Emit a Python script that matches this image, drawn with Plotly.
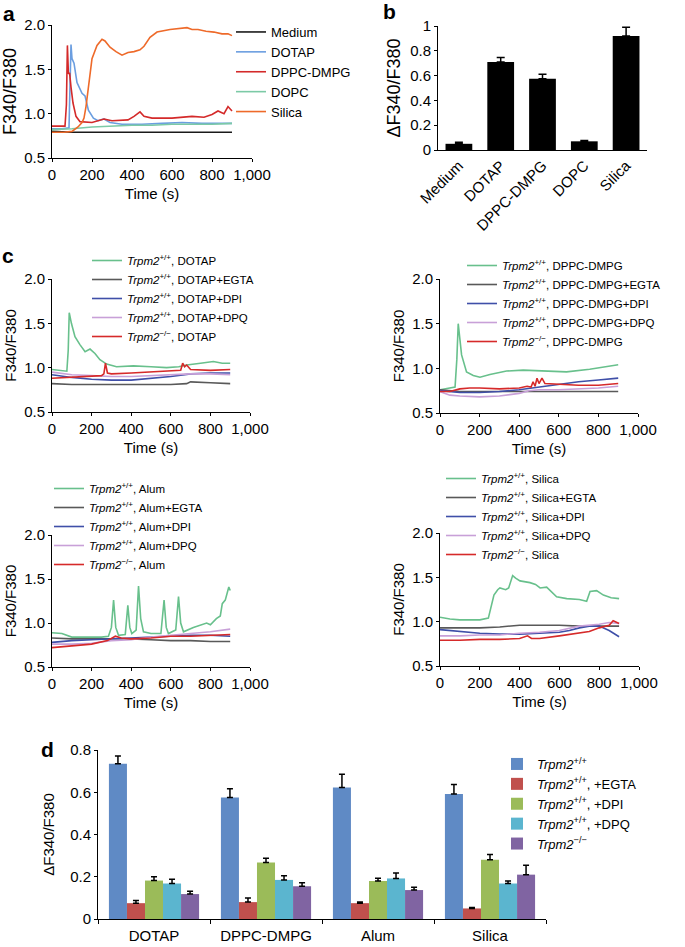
import plotly.graph_objects as go

W, H = 685, 947

# ---------------- Panel a data ----------------
a_t_medium = [0, 100, 200, 300, 400, 500, 600, 700, 800, 900]
a_v_medium = [0.80, 0.79, 0.79, 0.79, 0.79, 0.79, 0.79, 0.79, 0.79, 0.79]
a_t_dotap = [0, 50, 85, 90, 95, 100, 110, 125, 140, 150, 165, 182, 207, 230, 260, 290, 350, 450, 550, 650, 750, 850, 900]
a_v_dotap = [0.83, 0.83, 0.84, 1.30, 1.78, 1.62, 1.57, 1.35, 1.27, 1.23, 1.20, 1.04, 0.95, 0.92, 0.94, 0.90, 0.88, 0.88, 0.89, 0.90, 0.89, 0.89, 0.89]
a_t_dppc = [0, 65, 72, 77, 82, 88, 95, 105, 120, 140, 200, 260, 300, 380, 410, 440, 460, 500, 600, 700, 760, 800, 830, 860, 880, 900]
a_v_dppc = [0.86, 0.86, 1.10, 1.77, 1.45, 1.46, 1.30, 1.12, 0.97, 0.91, 0.90, 0.94, 0.92, 0.93, 0.97, 1.02, 0.97, 0.95, 0.95, 0.97, 0.96, 0.99, 1.03, 1.00, 1.08, 1.03]
a_t_dopc = [0, 100, 200, 300, 400, 500, 600, 700, 800, 900]
a_v_dopc = [0.82, 0.83, 0.85, 0.86, 0.87, 0.87, 0.88, 0.88, 0.88, 0.89]
a_t_silica = [0, 60, 100, 130, 150, 160, 170, 183, 200, 225, 250, 265, 290, 320, 350, 380, 410, 440, 460, 490, 525, 590, 640, 675, 700, 730, 770, 810, 850, 880, 900]
a_v_silica = [0.79, 0.79, 0.80, 0.85, 0.90, 0.95, 1.08, 1.34, 1.62, 1.77, 1.84, 1.82, 1.75, 1.70, 1.66, 1.69, 1.70, 1.72, 1.76, 1.86, 1.92, 1.95, 1.96, 1.97, 1.95, 1.95, 1.93, 1.92, 1.90, 1.90, 1.88]

# ---------------- Panel b data ----------------
b_cats = ["Medium", "DOTAP", "DPPC-DMPG", "DOPC", "Silica"]
b_vals = [0.05, 0.71, 0.575, 0.07, 0.92]
b_err = [0.012, 0.035, 0.035, 0.006, 0.07]

# ---------------- Panel c data ----------------
t10 = [0, 100, 200, 300, 400, 500, 600, 700, 800, 900]

c1_t_wt = [0, 40, 75, 82, 87, 98, 116, 141, 167, 192, 217, 242, 276, 326, 411, 500, 579, 640, 680, 750, 815, 860, 900]
c1_v_wt = [0.98, 0.97, 0.96, 1.20, 1.62, 1.50, 1.35, 1.26, 1.18, 1.21, 1.16, 1.09, 1.04, 1.01, 1.02, 1.01, 1.00, 1.01, 1.03, 1.05, 1.07, 1.05, 1.05]
c1_t_egta = [0, 100, 200, 300, 400, 500, 600, 680, 700, 800, 900]
c1_v_egta = [0.82, 0.81, 0.81, 0.81, 0.81, 0.81, 0.81, 0.82, 0.84, 0.83, 0.82]
c1_v_dpi = [0.92, 0.89, 0.87, 0.86, 0.86, 0.88, 0.90, 0.93, 0.94, 0.94]
c1_v_dpq = [0.95, 0.92, 0.91, 0.90, 0.90, 0.91, 0.92, 0.93, 0.93, 0.92]
c1_t_ko = [0, 100, 200, 250, 262, 270, 280, 300, 400, 500, 600, 650, 660, 670, 680, 700, 800, 900]
c1_v_ko = [0.88, 0.89, 0.90, 0.91, 0.93, 1.05, 0.94, 0.93, 0.94, 0.95, 0.96, 0.97, 1.05, 1.01, 1.03, 0.98, 0.97, 0.98]

c2_t_wt = [0, 40, 76, 85, 92, 109, 134, 168, 202, 252, 336, 420, 504, 639, 756, 840, 900]
c2_v_wt = [0.76, 0.78, 0.79, 1.10, 1.50, 1.15, 0.96, 0.92, 0.90, 0.93, 0.97, 0.98, 0.97, 0.96, 0.99, 1.02, 1.04]
c2_v_egta = [0.76, 0.74, 0.74, 0.74, 0.74, 0.74, 0.74, 0.74, 0.74, 0.74]
c2_v_dpi = [0.75, 0.73, 0.73, 0.74, 0.76, 0.79, 0.82, 0.85, 0.87, 0.89]
c2_t_dpq = [0, 50, 100, 200, 300, 400, 450, 500, 600, 700, 800, 900]
c2_v_dpq = [0.74, 0.70, 0.69, 0.68, 0.69, 0.72, 0.75, 0.76, 0.76, 0.77, 0.78, 0.80]
c2_t_ko = [0, 50, 100, 150, 200, 300, 400, 440, 460, 470, 480, 490, 500, 515, 530, 600, 700, 800, 900]
c2_v_ko = [0.74, 0.74, 0.77, 0.78, 0.78, 0.77, 0.78, 0.80, 0.79, 0.85, 0.80, 0.89, 0.83, 0.89, 0.83, 0.82, 0.81, 0.81, 0.83]

c3_t_wt = [0, 50, 100, 250, 285, 300, 311, 322, 336, 370, 383, 393, 403, 425, 437, 448, 462, 500, 550, 566, 577, 588, 625, 639, 650, 664, 714, 748, 781, 800, 830, 850, 860, 875, 885, 893, 900]
c3_v_wt = [0.89, 0.88, 0.84, 0.84, 0.85, 0.95, 1.26, 0.95, 0.86, 0.87, 1.20, 0.95, 0.88, 0.92, 1.42, 1.05, 0.90, 0.88, 0.88, 1.26, 0.95, 0.88, 0.92, 1.30, 1.00, 0.90, 0.95, 0.98, 1.00, 0.98, 1.05, 1.08, 1.22, 1.26, 1.35, 1.41, 1.37]
c3_v_egta = [0.83, 0.82, 0.82, 0.82, 0.82, 0.81, 0.80, 0.80, 0.79, 0.79]
c3_v_dpi = [0.78, 0.80, 0.81, 0.82, 0.83, 0.84, 0.85, 0.86, 0.86, 0.85]
c3_v_dpq = [0.76, 0.76, 0.77, 0.80, 0.81, 0.84, 0.86, 0.88, 0.90, 0.93]
c3_t_ko = [0, 100, 200, 280, 320, 350, 400, 500, 600, 700, 800, 900]
c3_v_ko = [0.72, 0.74, 0.76, 0.80, 0.85, 0.83, 0.82, 0.83, 0.85, 0.85, 0.86, 0.87]

c4_t_wt = [0, 50, 100, 200, 243, 260, 271, 290, 301, 330, 345, 365, 380, 402, 452, 480, 503, 536, 586, 637, 700, 737, 754, 787, 821, 860, 900]
c4_v_wt = [1.05, 1.03, 1.02, 1.02, 1.04, 1.18, 1.30, 1.36, 1.38, 1.36, 1.38, 1.52, 1.49, 1.46, 1.44, 1.42, 1.38, 1.39, 1.28, 1.26, 1.25, 1.23, 1.34, 1.35, 1.30, 1.27, 1.26]
c4_v_egta = [0.93, 0.93, 0.93, 0.94, 0.96, 0.96, 0.96, 0.95, 0.95, 0.95]
c4_t_dpi = [0, 100, 200, 300, 400, 500, 600, 650, 700, 750, 800, 850, 880, 900]
c4_v_dpi = [0.91, 0.89, 0.87, 0.86, 0.86, 0.87, 0.88, 0.90, 0.93, 0.95, 0.95, 0.90, 0.86, 0.83]
c4_t_dpq = [0, 100, 200, 300, 400, 500, 600, 700, 800, 850, 900]
c4_v_dpq = [0.84, 0.84, 0.85, 0.85, 0.87, 0.88, 0.90, 0.95, 0.97, 0.99, 0.98]
c4_t_ko = [0, 100, 200, 300, 400, 440, 460, 500, 600, 700, 750, 800, 850, 870, 900]
c4_v_ko = [0.79, 0.79, 0.80, 0.80, 0.81, 0.84, 0.81, 0.81, 0.84, 0.87, 0.89, 0.93, 0.96, 1.01, 0.98]

# ---------------- Panel d data ----------------
d_cats = ["DOTAP", "DPPC-DMPG", "Alum", "Silica"]
d_wt = [0.735, 0.575, 0.623, 0.592]
d_wt_err = [0.037, 0.042, 0.062, 0.045]
d_egta = [0.075, 0.080, 0.075, 0.050]
d_egta_err = [0.013, 0.020, 0.006, 0.005]
d_dpi = [0.182, 0.268, 0.180, 0.280]
d_dpi_err = [0.018, 0.020, 0.013, 0.025]
d_dpq = [0.168, 0.185, 0.192, 0.168]
d_dpq_err = [0.020, 0.020, 0.026, 0.012]
d_ko = [0.118, 0.155, 0.137, 0.210]
d_ko_err = [0.013, 0.017, 0.013, 0.045]

WT = "<i>Trpm2</i><sup>+/+</sup>"
KO = "<i>Trpm2</i><sup>\u2212/\u2212</sup>"

FONT = "Liberation Sans, Arial, Helvetica, sans-serif"

def xd(a, b):
    return [a / W, b / W]

def yd(top, bottom):
    return [1 - bottom / H, 1 - top / H]

fig = go.Figure()

LW = 1.6

def line(x, y, name, color, xa, ya, legend):
    fig.add_trace(go.Scatter(x=x, y=y, name=name, mode="lines", legendgroup=legend + name,
                             line=dict(color=color, width=LW),
                             xaxis=xa, yaxis=ya, legend=legend))

# panel a
line(a_t_medium, a_v_medium, "Medium", "#1a1a1a", "x", "y", "legend")
line(a_t_dotap, a_v_dotap, "DOTAP", "#6b9ee0", "x", "y", "legend")
line(a_t_dppc, a_v_dppc, "DPPC-DMPG", "#d42a2a", "x", "y", "legend")
line(a_t_dopc, a_v_dopc, "DOPC", "#7ccaa6", "x", "y", "legend")
line(a_t_silica, a_v_silica, "Silica", "#ee6a2a", "x", "y", "legend")

# panel b
fig.add_trace(go.Bar(x=b_cats, y=b_vals, width=0.64, marker=dict(color="black", line=dict(width=0)),
                     error_y=dict(type="data", array=b_err, arrayminus=[0, 0, 0, 0, 0], symmetric=False,
                                  color="black", thickness=1.5, width=4),
                     xaxis="x2", yaxis="y2", showlegend=False))

GREEN = "#68c08c"
GRAY = "#595959"
BLUE = "#3f4fa8"
PINK = "#c8a0d8"
RED = "#d62a2a"

line(c1_t_wt, c1_v_wt, WT + ", DOTAP", GREEN, "x3", "y3", "legend2")
line(c1_t_egta, c1_v_egta, WT + ", DOTAP+EGTA", GRAY, "x3", "y3", "legend2")
line(t10, c1_v_dpi, WT + ", DOTAP+DPI", BLUE, "x3", "y3", "legend2")
line(t10, c1_v_dpq, WT + ", DOTAP+DPQ", PINK, "x3", "y3", "legend2")
line(c1_t_ko, c1_v_ko, KO + ", DOTAP", RED, "x3", "y3", "legend2")

line(c2_t_wt, c2_v_wt, WT + ", DPPC-DMPG", GREEN, "x4", "y4", "legend3")
line(t10, c2_v_egta, WT + ", DPPC-DMPG+EGTA", GRAY, "x4", "y4", "legend3")
line(t10, c2_v_dpi, WT + ", DPPC-DMPG+DPI", BLUE, "x4", "y4", "legend3")
line(c2_t_dpq, c2_v_dpq, WT + ", DPPC-DMPG+DPQ", PINK, "x4", "y4", "legend3")
line(c2_t_ko, c2_v_ko, KO + ", DPPC-DMPG", RED, "x4", "y4", "legend3")

line(c3_t_wt, c3_v_wt, WT + ", Alum", GREEN, "x5", "y5", "legend4")
line(t10, c3_v_egta, WT + ", Alum+EGTA", GRAY, "x5", "y5", "legend4")
line(t10, c3_v_dpi, WT + ", Alum+DPI", BLUE, "x5", "y5", "legend4")
line(t10, c3_v_dpq, WT + ", Alum+DPQ", PINK, "x5", "y5", "legend4")
line(c3_t_ko, c3_v_ko, KO + ", Alum", RED, "x5", "y5", "legend4")

line(c4_t_wt, c4_v_wt, WT + ", Silica", GREEN, "x6", "y6", "legend5")
line(t10, c4_v_egta, WT + ", Silica+EGTA", GRAY, "x6", "y6", "legend5")
line(c4_t_dpi, c4_v_dpi, WT + ", Silica+DPI", BLUE, "x6", "y6", "legend5")
line(c4_t_dpq, c4_v_dpq, WT + ", Silica+DPQ", PINK, "x6", "y6", "legend5")
line(c4_t_ko, c4_v_ko, KO + ", Silica", RED, "x6", "y6", "legend5")

# panel d
d_series = [
    (WT, d_wt, d_wt_err, "#5f8ac5"),
    (WT + ", +EGTA", d_egta, d_egta_err, "#c0504d"),
    (WT + ", +DPI", d_dpi, d_dpi_err, "#9bbb59"),
    (WT + ", +DPQ", d_dpq, d_dpq_err, "#5bb5cf"),
    (KO, d_ko, d_ko_err, "#8064a2"),
]
for name, vals, err, col in d_series:
    fig.add_trace(go.Bar(x=d_cats, y=vals, name=name, legendgroup="d" + name,
                         marker=dict(color=col, line=dict(width=0)),
                         error_y=dict(type="data", array=err, arrayminus=[0, 0, 0, 0], symmetric=False,
                                      color="black", thickness=1.5, width=3),
                         xaxis="x7", yaxis="y7", legend="legend6"))

tickfont = dict(family=FONT, size=15, color="black")

def time_axes(xname, yname, xdom, ydom, ytitle_size):
    xax = dict(domain=xdom, anchor=yname.replace("axis", ""), range=[0, 1000], automargin=False,
               tickvals=[0, 200, 400, 600, 800, 1000], tickformat=",d",
               showline=True, linecolor="black", linewidth=1, ticks="outside", ticklen=3,
               tickcolor="black", showgrid=False, zeroline=False, tickfont=tickfont,
               title=dict(text="Time (s)", font=dict(family=FONT, size=15, color="black"), standoff=6))
    yax = dict(domain=ydom, anchor=xname.replace("axis", ""), range=[0.5, 2.0], automargin=False,
               tickvals=[0.5, 1.0, 1.5, 2.0], tickformat=".1f",
               showline=True, linecolor="black", linewidth=1, ticks="outside", ticklen=3,
               tickcolor="black", showgrid=False, zeroline=False, tickfont=tickfont,
               title=dict(text="F340/F380", font=dict(family=FONT, size=ytitle_size, color="black"), standoff=3))
    return xax, yax

xa, ya = time_axes("xaxis", "yaxis", xd(52, 252), yd(25, 158), 18)
x3, y3 = time_axes("xaxis3", "yaxis3", xd(52, 250), yd(279, 412), 15)
x4, y4 = time_axes("xaxis4", "yaxis4", xd(440, 638), yd(279, 413), 15)
x5, y5 = time_axes("xaxis5", "yaxis5", xd(52, 250), yd(535, 667), 15)
x6, y6 = time_axes("xaxis6", "yaxis6", xd(440, 639), yd(533, 666), 15)

x2 = dict(domain=xd(438, 647), anchor="y2", type="category", range=[-0.5, 4.5], tickangle=-45, automargin=False,
          showline=True, linecolor="black", linewidth=1, ticks="", showgrid=False, zeroline=False,
          tickfont=tickfont)
y2 = dict(domain=yd(26, 150), anchor="x2", range=[0, 1], tickvals=[0, 0.2, 0.4, 0.6, 0.8, 1], automargin=False,
          showline=True, linecolor="black", linewidth=1, ticks="outside", ticklen=3, tickcolor="black",
          showgrid=False, zeroline=False, tickfont=tickfont,
          title=dict(text="\u0394F340/F380", font=dict(family=FONT, size=18, color="black"), standoff=4))

x7 = dict(domain=xd(98, 546), anchor="y7", type="category", range=[-0.5, 3.5], tickson="boundaries", automargin=False,
          showline=True, linecolor="black", linewidth=1, ticks="outside", ticklen=4, tickcolor="black",
          showgrid=False, zeroline=False, tickfont=tickfont, ticklabelstandoff=3)
y7 = dict(domain=yd(750, 919), anchor="x7", range=[0, 0.8], tickvals=[0, 0.2, 0.4, 0.6, 0.8], automargin=False,
          showline=True, linecolor="black", linewidth=1, ticks="outside", ticklen=3, tickcolor="black",
          showgrid=False, zeroline=False, tickfont=tickfont,
          title=dict(text="\u0394F340/F380", font=dict(family=FONT, size=15, color="black"), standoff=11))

def leg(xpx, ypx, size, gap):
    return dict(x=xpx / W, y=1 - ypx / H, xanchor="left", yanchor="top", bgcolor="rgba(0,0,0,0)",
                borderwidth=0, font=dict(family=FONT, size=size, color="black"), tracegroupgap=gap,
                traceorder="normal")

panel_labels = [("a", 9, 13), ("b", 389, 12), ("c", 8, 256), ("d", 47, 749)]
annotations = [dict(text="<b>%s</b>" % t, x=px / W, y=1 - py / H, xref="paper", yref="paper",
                    showarrow=False, xanchor="center", yanchor="middle",
                    font=dict(family=FONT, size=21, color="black"))
               for t, px, py in panel_labels]

fig.update_layout(
    width=W, height=H, autosize=False,
    margin=dict(l=0, r=0, t=0, b=0, autoexpand=False),
    paper_bgcolor="white", plot_bgcolor="white",
    font=dict(family=FONT, color="black"),
    barmode="group", bargap=0.195, bargroupgap=0,
    xaxis=xa, yaxis=ya, xaxis2=x2, yaxis2=y2, xaxis3=x3, yaxis3=y3, xaxis4=x4, yaxis4=y4,
    xaxis5=x5, yaxis5=y5, xaxis6=x6, yaxis6=y6, xaxis7=x7, yaxis7=y7,
    legend=leg(231, 17, 13, 0),
    legend2=leg(87, 246, 11.5, 2),
    legend3=leg(462, 251, 11.5, 2),
    legend4=leg(49, 474, 11.5, 2),
    legend5=leg(441, 464, 11.5, 2),
    legend6=leg(497, 749, 13, 2),
    annotations=annotations,
)

fig.write_html("out.html", config={"displayModeBar": False},
               post_script="document.body.style.margin='0px';")
